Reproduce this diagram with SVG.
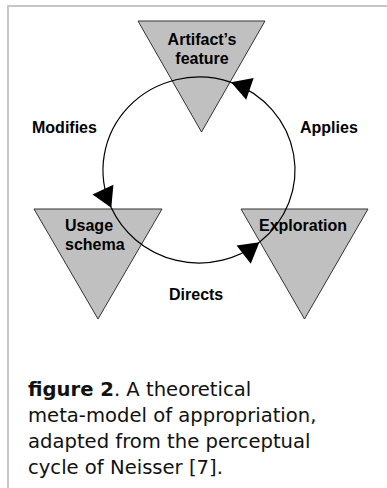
<svg xmlns="http://www.w3.org/2000/svg" width="387" height="488" viewBox="0 0 387 488">
<style>
.tri{fill:#c0c0c0;stroke:#333;stroke-width:1}
.lbl{font-family:"Liberation Sans",Arial,sans-serif;font-weight:bold;font-size:16px;fill:#000}
.edge{fill:none;stroke:#000;stroke-width:1.2}
.cap{font-family:"DejaVu Sans",Verdana,sans-serif;font-size:19.6px;fill:#111}
</style>
<defs>
<marker id="arr" markerUnits="userSpaceOnUse" markerWidth="24" markerHeight="26" viewBox="-21 -13 22 26" refX="0" refY="0" orient="auto">
<path d="M0,0 L-20,-11.5 L-20,11.5 Z" fill="#000"/>
</marker>
</defs>
<path d="M8,488 V6 H387" fill="none" stroke="#c6c6c6" stroke-width="2"/>
<g id="artifact">
<polygon class="tri" points="138,21 265,21 201.5,132"/>
<text class="lbl" x="202" y="45" text-anchor="middle">Artifact’s</text>
<text class="lbl" x="202" y="64" text-anchor="middle">feature</text>
</g>
<g id="usage">
<polygon class="tri" points="34,209 162,209 98,319"/>
<text class="lbl" x="65" y="231">Usage</text>
<text class="lbl" x="65" y="250">schema</text>
</g>
<g id="exploration">
<polygon class="tri" points="241,209 368,209 304.5,319"/>
<text class="lbl" x="259" y="231">Exploration</text>
</g>
<g id="connectors">
<path class="edge" marker-end="url(#arr)" d="M231.03,82.34 A96,93 0 0 0 111.30,207.83"/>
<path class="edge" marker-end="url(#arr)" d="M111.30,207.83 A96,93 0 0 0 259.41,242.27"/>
<path class="edge" marker-end="url(#arr)" d="M259.41,242.27 A96,93 0 0 0 231.03,82.34"/>
<text class="lbl" x="32" y="133">Modifies</text>
<text class="lbl" x="300" y="133">Applies</text>
<text class="lbl" x="169" y="300">Directs</text>
</g>
<g id="caption">
<text class="cap" x="28" y="396"><tspan font-weight="bold">figure 2</tspan>. A theoretical</text>
<text class="cap" x="28" y="422">meta-model of appropriation,</text>
<text class="cap" x="28" y="448">adapted from the perceptual</text>
<text class="cap" x="28" y="474">cycle of Neisser [7].</text>
</g>
</svg>
